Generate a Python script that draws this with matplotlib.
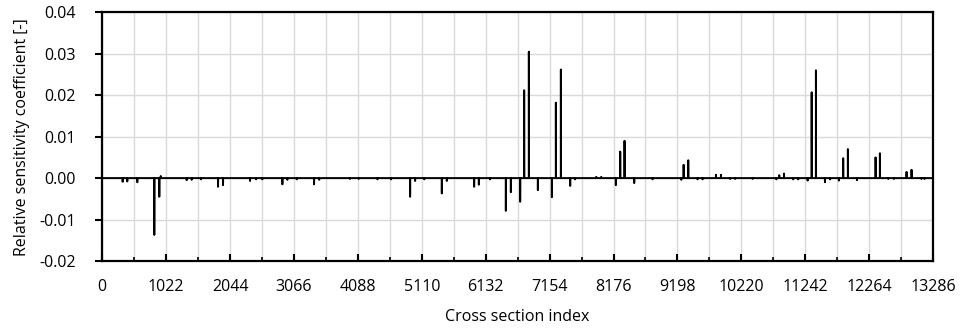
import numpy as np
import matplotlib
matplotlib.use("Agg")
import matplotlib.pyplot as plt
from matplotlib.ticker import MultipleLocator, FormatStrFormatter

plt.rcParams['font.family'] = ['Open Sans', 'DejaVu Sans']
plt.rcParams['axes.unicode_minus'] = False

# spike positions (cross section index) and coefficient values
spike_index = [326, 400, 560, 832, 912, 935, 1350, 1430, 1579, 1851, 1931, 2363,
               2460, 2560, 2880, 2960, 3110, 3387, 3470, 3960, 4100, 4401, 4620,
               4923, 5003, 5150, 5430, 5510, 5947, 6022, 6200, 6454, 6534, 6683,
               6747, 6822, 6966, 7190, 7254, 7334, 7483, 7560, 7900, 7980, 8213,
               8283, 8352, 8507, 8800, 9260, 9297, 9371, 9520, 9600, 9814, 9894,
               10040, 10120, 10400, 10780, 10826, 10902, 11050, 11130, 11280,
               11345, 11413, 11557, 11640, 11780, 11849, 11924, 12070, 12367,
               12436, 12570, 12660, 12862, 12942, 13100, 13150]
spike_value = [-0.0009, -0.0008, -0.0010, -0.0137, -0.0045, 0.0005, -0.0005,
               -0.0004, -0.0003, -0.0021, -0.0017, -0.0007, -0.0003, -0.0003,
               -0.0015, -0.0004, -0.0003, -0.0015, -0.0004, -0.0002, -0.0002,
               -0.0003, -0.0003, -0.0045, -0.0007, -0.0003, -0.0037, -0.0007,
               -0.0021, -0.0016, -0.0003, -0.0079, -0.0034, -0.0057, 0.0212,
               0.0305, -0.0029, -0.0046, 0.0182, 0.0262, -0.0019, -0.0003,
               0.0003, 0.0003, -0.0017, 0.0064, 0.0090, -0.0012, -0.0003,
               -0.0004, 0.0032, 0.0043, -0.0003, -0.0003, 0.0008, 0.0008,
               -0.0002, -0.0002, -0.0002, -0.0003, 0.0007, 0.0011, -0.0003,
               -0.0003, -0.0006, 0.0207, 0.0260, -0.0010, -0.0003, -0.0006,
               0.0048, 0.0070, -0.0005, 0.0050, 0.0060, -0.0002, -0.0002,
               0.0015, 0.0020, -0.0002, -0.0002]

n_sections = 13287
coef = np.zeros(n_sections)
coef[spike_index] = spike_value

fig = plt.figure(figsize=(9.63, 3.31), dpi=100)
ax = fig.add_axes([0.1062, 0.2115, 0.8627, 0.7513])

ax.plot(np.arange(n_sections), coef, color="black", lw=1.4)

ax.set_xlim(0, 13286)
ax.set_ylim(-0.02, 0.04)
ax.xaxis.set_major_locator(MultipleLocator(1022))
ax.xaxis.set_minor_locator(MultipleLocator(511))
ax.yaxis.set_major_locator(MultipleLocator(0.01))
ax.yaxis.set_major_formatter(FormatStrFormatter('%.2f'))

ax.grid(True, which="major", color="#d9d9d9", lw=1.0)
ax.grid(True, which="minor", axis="x", color="#d9d9d9", lw=1.0)
ax.set_axisbelow(True)

for s in ax.spines.values():
    s.set_linewidth(1.6)

ax.tick_params(axis="x", which="major", direction="in", length=5, width=1.5,
               labelsize=11.5, pad=13)
ax.tick_params(axis="x", which="minor", direction="in", length=3, width=1.2)
ax.tick_params(axis="y", which="major", direction="out", length=5, width=1.5,
               labelsize=11.5, pad=14)

ax.set_xlabel("Cross section index", fontsize=11.5, labelpad=10)
ax.set_ylabel("Relative sensitivity coefficient [-]", fontsize=11.5, labelpad=7)

fig.savefig("out.png", dpi=100)
plt.close(fig)
